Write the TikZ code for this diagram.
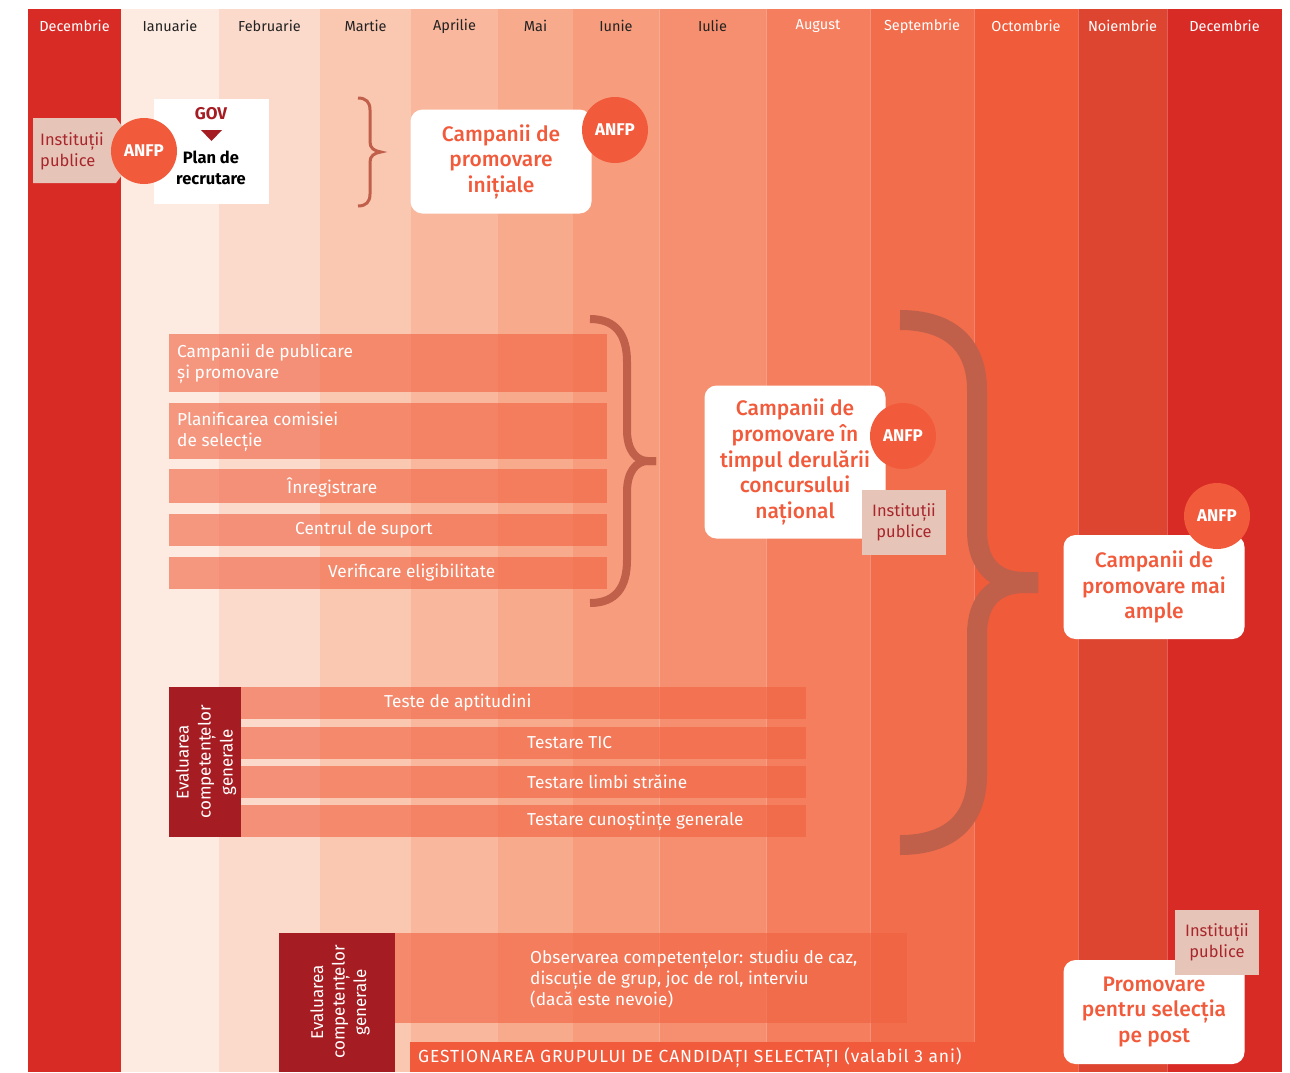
\documentclass[tikz,border=0pt]{standalone}
\usepackage{fontspec}
\setmainfont{Fira Sans}
\IfFontExistsTF{Fira Sans Medium}{\newfontfamily\headfont{Fira Sans Medium}}{\newcommand{\headfont}{\bfseries}}
\usetikzlibrary{calc, positioning}

\definecolor{decred}{HTML}{D92B26}
\definecolor{colA}{HTML}{FDEAE0}
\definecolor{colB}{HTML}{FBDACB}
\definecolor{colC}{HTML}{FAC7B1}
\definecolor{colD}{HTML}{F9B89D}
\definecolor{colE}{HTML}{F8AA8C}
\definecolor{colF}{HTML}{F79D7E}
\definecolor{colG}{HTML}{F68F6F}
\definecolor{colH}{HTML}{F47E5E}
\definecolor{colI}{HTML}{F26D4C}
\definecolor{colJ}{HTML}{F05B3A}
\definecolor{colK}{HTML}{DD4530}
\definecolor{monthdark}{HTML}{222222}
\definecolor{anfpred}{HTML}{F15A3A}
\definecolor{instpink}{HTML}{E6C5B8}
\definecolor{instred}{HTML}{A8262C}
\definecolor{darkred}{HTML}{A51C22}
\definecolor{bracecol}{HTML}{C0604B}
\definecolor{barcol}{HTML}{F0603F}

\tikzset{
  month/.style={font=\fontsize{14.5}{16}\selectfont, inner sep=0pt},
  sep/.style={white, opacity=0.25, line width=0.8pt},
  bar/.style={barcol, fill opacity=0.6},
  bartext/.style={text=white, font=\fontsize{17.3}{21}\selectfont, inner sep=0pt},
  anfp/.style={circle, fill=anfpred, minimum size=66pt, inner sep=0pt, text=white,
    font=\bfseries\fontsize{17}{18}\selectfont},
  inst/.style={fill=instpink, text=instred, align=center, inner sep=0pt,
    minimum width=84pt, minimum height=65pt, font=\fontsize{16.5}{21}\selectfont},
  whitebox/.style={fill=white, rounded corners=12pt, text=anfpred, align=center,
    inner sep=0pt, minimum width=181pt, font=\headfont\fontsize{21}{25.5}\selectfont},
  brace/.style={bracecol, line cap=butt}
}

\begin{document}
\begin{tikzpicture}[x=1pt, y=-1pt]
  \useasboundingbox (0,0) rectangle (1290,1072);
  \fill[white] (0,0) rectangle (1290,1072);

  % months
  \foreach \xa/\xb/\col/\name/\tc [count=\i] in {
      28/121/decred/Decembrie/white, 121/219/colA/Ianuarie/monthdark,
      219/320/colB/Februarie/monthdark, 320/411/colC/Martie/monthdark,
      411/498/colD/Aprilie/monthdark, 498/573/colE/Mai/monthdark,
      573/659/colF/Iunie/monthdark, 659/766/colG/Iulie/monthdark,
      766/870/colH/August/white, 870/974/colI/Septembrie/white,
      974/1078/colJ/Octombrie/white, 1078/1167/colK/Noiembrie/white,
      1167/1282/decred/Decembrie/white} {
    \fill[\col] (\xa,9) rectangle (\xb,1072);
    \node[month, text=\tc] (month\i) at ({(\xa+\xb)/2},26) {\name};
  }
  \foreach \xb in {659,766,870,974,1078,1167}
    \draw[sep] (\xb,9) -- (\xb,1072);

  % first group
  \fill[bar] (169,334) rectangle (607,392);
  \node[bartext, anchor=west, align=left] (publicare) at (177,363.5) {Campanii de publicare\\și promovare};
  \fill[bar] (169,403) rectangle (607,459);
  \node[bartext, anchor=west, align=left] (comisie) at (177,431.5) {Planificarea comisiei\\de selecție};
  \fill[bar] (169,469) rectangle (607,503);
  \node[bartext, anchor=west] (inregistrare) at (287,487) {Înregistrare};
  \fill[bar] (169,514) rectangle (607,546);
  \node[bartext, anchor=west] (suport) at (295,530) {Centrul de suport};
  \fill[bar] (169,557) rectangle (607,589);
  \node[bartext, anchor=west] (eligibil) at (328,573) {Verificare eligibilitate};

  % second group
  \fill[darkred] (169,687) rectangle (241,837);
  \node[bartext, rotate=90, align=center, font=\fontsize{17}{22}\selectfont] (evalA) at (206,762) {Evaluarea\\competențelor\\generale};
  \fill[bar] (241,687) rectangle (806,719);
  \node[bartext, anchor=west] (aptitudini) at (384,703) {Teste de aptitudini};
  \fill[bar] (241,727) rectangle (806,759);
  \node[bartext, anchor=west] (tic) at (527,743) {Testare TIC};
  \fill[bar] (241,766) rectangle (806,798);
  \node[bartext, anchor=west] (limbi) at (527,782) {Testare limbi străine};
  \fill[bar] (241,805) rectangle (806,837);
  \node[bartext, anchor=west] (cunostinte) at (527,821) {Testare cunoștințe generale};

  % third group
  \fill[darkred] (279,933) rectangle (395,1072);
  \node[bartext, rotate=90, align=center, font=\fontsize{17}{21.5}\selectfont] (evalB) at (340,1002) {Evaluarea\\competențelor\\generale};
  \fill[bar] (395,933) rectangle (907,1023);
  \node[bartext, anchor=west, align=left] (observare) at (530,979) {Observarea competențelor: studiu de caz,\\discuție de grup, joc de rol, interviu\\(dacă este nevoie)};
  \fill[anfpred] (410,1042) rectangle (975,1072);
  \node[bartext, anchor=west, font=\addfontfeature{LetterSpace=5}\fontsize{17.5}{21}\selectfont] (gestiune) at (418,1058) {GESTIONAREA GRUPULUI DE CANDIDAȚI SELECTAȚI (valabil 3 ani)};

  % braces
  \draw[brace, line width=3pt] (358,98) .. controls (366,98) and (370,102) .. (370,110) -- (370,142)
    .. controls (370,148) and (374,151) .. (381,152) .. controls (374,153) and (370,156) .. (370,162)
    -- (370,194) .. controls (370,202) and (366,206) .. (358,206);
  \draw[brace, line width=8pt] (590,319) .. controls (616,319) and (627,335) .. (627,362) -- (627,430)
    .. controls (627,450) and (636,461) .. (648,461) -- (656,461);
  \draw[brace, line width=8pt] (656,461) -- (648,461) .. controls (636,461) and (627,472) .. (627,492)
    -- (627,560) .. controls (627,587) and (616,603) .. (590,603);
  \draw[brace, line width=20pt] (900,320) .. controls (950,320) and (977,345) .. (977,390) -- (977,530)
    .. controls (977,565) and (995,582) .. (1025,582) -- (1038,582);
  \draw[brace, line width=20pt] (1038,583) -- (1025,583) .. controls (995,583) and (977,600) .. (977,635)
    -- (977,775) .. controls (977,820) and (950,845) .. (900,845);

  % top left
  \fill[instpink] (33,118) -- (116,118) -- (122,126) -- (122,175) -- (116,183) -- (33,183) -- cycle;
  \node[text=instred, align=left, inner sep=0pt, anchor=west, font=\fontsize{16.5}{21}\selectfont] (instA) at (40,151.5) {Instituții\\publice};
  \fill[white] (154,99) rectangle (269,204);
  \node[text=darkred, font=\bfseries\fontsize{17}{18}\selectfont] (gov) at (211,114) {GOV};
  \fill[darkred] (201,130) -- (222,130) -- (211.5,141) -- cycle;
  \node[align=center, inner sep=0pt, font=\bfseries\fontsize{16.5}{21}\selectfont] (recrutare) at (211,167.5) {Plan de\\recrutare};
  \node[anfp] (anfpA) at (144,151) {ANFP};

  \node[whitebox, minimum height=104pt] (initiale) at (501,161.5) {Campanii de\\promovare\\inițiale};
  \node[anfp] (anfpB) at (615,130) {ANFP};

  % middle
  \node[whitebox, minimum height=153pt, font=\headfont\fontsize{21}{25.75}\selectfont] (concurs) at (795,462) {Campanii de\\promovare în\\timpul derulării\\concursului\\național};
  \node[anfp] (anfpC) at (903,436) {ANFP};
  \node[inst] (instB) at (904,522.5) {Instituții\\publice};

  % right
  \node[whitebox, minimum height=104pt] (ample) at (1154,587) {Campanii de\\promovare mai\\ample};
  \node[anfp] (anfpD) at (1217,516) {ANFP};
  \node[whitebox, minimum height=104pt] (post) at (1154,1012) {Promovare\\pentru selecția\\pe post};
  \node[inst] (instC) at (1217,942.5) {Instituții\\publice};
\end{tikzpicture}
\end{document}
